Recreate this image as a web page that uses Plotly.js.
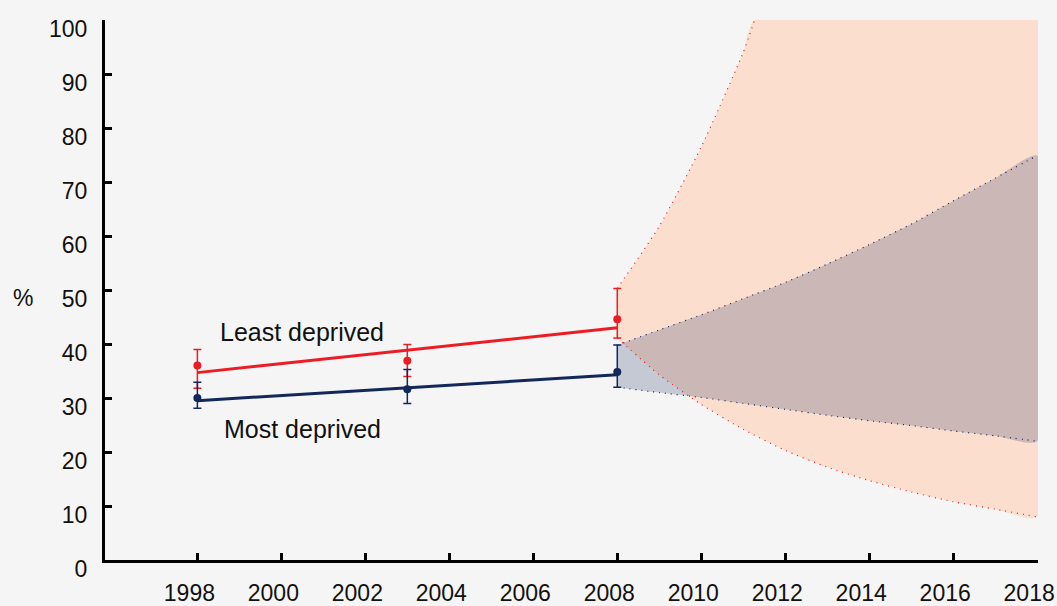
<!DOCTYPE html>
<html>
<head>
<meta charset="utf-8">
<script src="https://cdn.plot.ly/plotly-3.0.1.min.js"></script>
<style>html,body{margin:0;padding:0;background:#f5f5f5;}#chart{width:1057px;height:606px;}</style>
</head>
<body>
<div id="chart"></div>
<script>
// Observed survey years and values (%)
const obsYears = [1998, 2003, 2008];
const leastObs = [36.0, 36.9, 44.6];
const leastHi  = [39.0, 39.9, 50.3];
const leastLo  = [31.8, 34.0, 41.1];
const mostObs  = [30.0, 31.6, 34.8];
const mostHi   = [32.9, 35.3, 39.8];
const mostLo   = [28.1, 29.0, 32.0];

// Fitted trend lines
const trendYears = [1998, 2008];
const leastTrend = [34.7, 43.0];
const mostTrend  = [29.5, 34.3];

// Projection bands 2008-2018
const projYears = [2008, 2009, 2010, 2011, 2012, 2013, 2014, 2015, 2016, 2017, 2018];
const leastLower = [41.1, 34.3, 28.8, 24.2, 20.3, 17.2, 14.7, 12.6, 10.8, 9.4, 8.0];
const leastUpperYears = [2008, 2009, 2010, 2011, 2011.27];
const leastUpper = [50.3, 61.8, 76.5, 94.0, 100];
const bandCap = 100;
const mostUpper = [39.8, 42.6, 45.4, 48.4, 51.4, 54.8, 58.4, 62.2, 66.5, 70.7, 74.9];
const mostLower = [32.0, 31.0, 30.1, 29.0, 27.9, 26.8, 25.8, 24.9, 23.9, 23.0, 22.0];

const xTicks = [1998, 2000, 2002, 2004, 2006, 2008, 2010, 2012, 2014, 2016, 2018];
const yTicks = [0, 10, 20, 30, 40, 50, 60, 70, 80, 90, 100];

const RED = '#ec1c24';
const NAVY = '#13275b';
const FONT = '"Liberation Sans Narrow", "Arial Narrow", "Liberation Sans", Arial, sans-serif';

const rev = a => a.slice().reverse();
const lastYear = projYears[projYears.length - 1];

const traces = [
  // red (least deprived) band fill
  {
    x: leastUpperYears.concat([lastYear], rev(projYears)),
    y: leastUpper.concat([bandCap], rev(leastLower)),
    type: 'scatter', mode: 'lines', fill: 'toself',
    fillcolor: 'rgb(252,222,207)', line: {width: 0, shape: 'spline', smoothing: 0.6},
    hoverinfo: 'skip', showlegend: false
  },
  // navy (most deprived) band fill
  {
    x: projYears.concat(rev(projYears)),
    y: mostUpper.concat(rev(mostLower)),
    type: 'scatter', mode: 'lines', fill: 'toself',
    fillcolor: 'rgba(19,39,91,0.21)', line: {width: 0, shape: 'spline', smoothing: 0.6},
    hoverinfo: 'skip', showlegend: false
  },
  // dotted band edges
  {x: leastUpperYears, y: leastUpper, type: 'scatter', mode: 'lines',
   line: {color: RED, width: 1.2, dash: '1px,5px', shape: 'spline', smoothing: 0.6}, showlegend: false},
  {x: projYears, y: leastLower, type: 'scatter', mode: 'lines',
   line: {color: RED, width: 1.2, dash: '1px,5px', shape: 'spline', smoothing: 0.6}, showlegend: false},
  {x: projYears, y: mostUpper, type: 'scatter', mode: 'lines',
   line: {color: NAVY, width: 1.2, dash: '1px,5px', shape: 'spline', smoothing: 0.6}, showlegend: false},
  {x: projYears, y: mostLower, type: 'scatter', mode: 'lines',
   line: {color: NAVY, width: 1.2, dash: '1px,5px', shape: 'spline', smoothing: 0.6}, showlegend: false},
  // trend lines
  {x: trendYears, y: leastTrend, type: 'scatter', mode: 'lines',
   line: {color: RED, width: 3}, showlegend: false},
  {x: trendYears, y: mostTrend, type: 'scatter', mode: 'lines',
   line: {color: NAVY, width: 3}, showlegend: false},
  // observed points with CIs
  {x: obsYears, y: leastObs, type: 'scatter', mode: 'markers',
   marker: {color: RED, size: 8},
   error_y: {type: 'data', symmetric: false,
     array: leastHi.map((v, i) => v - leastObs[i]),
     arrayminus: leastObs.map((v, i) => v - leastLo[i]),
     color: RED, thickness: 1.5, width: 4},
   showlegend: false},
  {x: obsYears, y: mostObs, type: 'scatter', mode: 'markers',
   marker: {color: NAVY, size: 8},
   error_y: {type: 'data', symmetric: false,
     array: mostHi.map((v, i) => v - mostObs[i]),
     arrayminus: mostObs.map((v, i) => v - mostLo[i]),
     color: NAVY, thickness: 1.5, width: 4},
   showlegend: false}
];

const layout = {
  width: 1057, height: 606,
  margin: {l: 105, r: 19, t: 20, b: 46},
  paper_bgcolor: '#f5f5f5', plot_bgcolor: '#f5f5f5',
  font: {family: FONT, size: 23, color: '#111'},
  showlegend: false,
  xaxis: {
    range: [1995.8, 2018.02], tickvals: xTicks, ticktext: xTicks.map(String),
    showgrid: false, zeroline: false, showline: true, linecolor: '#000', linewidth: 3,
    ticks: 'inside', ticklen: 7, tickwidth: 3, tickcolor: '#000',
    ticklabelstandoff: 10, ticklabelshift: -8, ticklabeloverflow: 'allow',
    tickfont: {family: FONT, size: 23, color: '#111'}
  },
  yaxis: {
    range: [0, 100], tickvals: yTicks, ticktext: yTicks.map(String),
    showgrid: false, zeroline: false, showline: true, linecolor: '#000', linewidth: 3,
    ticks: 'inside', ticklen: 7, tickwidth: 3, tickcolor: '#000',
    ticklabelstandoff: 10, ticklabelshift: 9, ticklabeloverflow: 'allow',
    tickfont: {family: FONT, size: 23, color: '#111'}
  },
  annotations: [
    {text: 'Least deprived', x: 2000.5, y: 42.2, xref: 'x', yref: 'y', showarrow: false,
     xanchor: 'center', yanchor: 'middle', font: {family: FONT, size: 25, color: '#111'}},
    {text: 'Most deprived', x: 2000.5, y: 24.3, xref: 'x', yref: 'y', showarrow: false,
     xanchor: 'center', yanchor: 'middle', font: {family: FONT, size: 25, color: '#111'}},
    {text: '%', x: -0.0876, y: 48.6, xref: 'paper', yref: 'y', showarrow: false,
     xanchor: 'center', yanchor: 'middle', font: {family: FONT, size: 23, color: '#111'}}
  ]
};

Plotly.newPlot('chart', traces, layout, {displayModeBar: false, staticPlot: true});
</script>
</body>
</html>
